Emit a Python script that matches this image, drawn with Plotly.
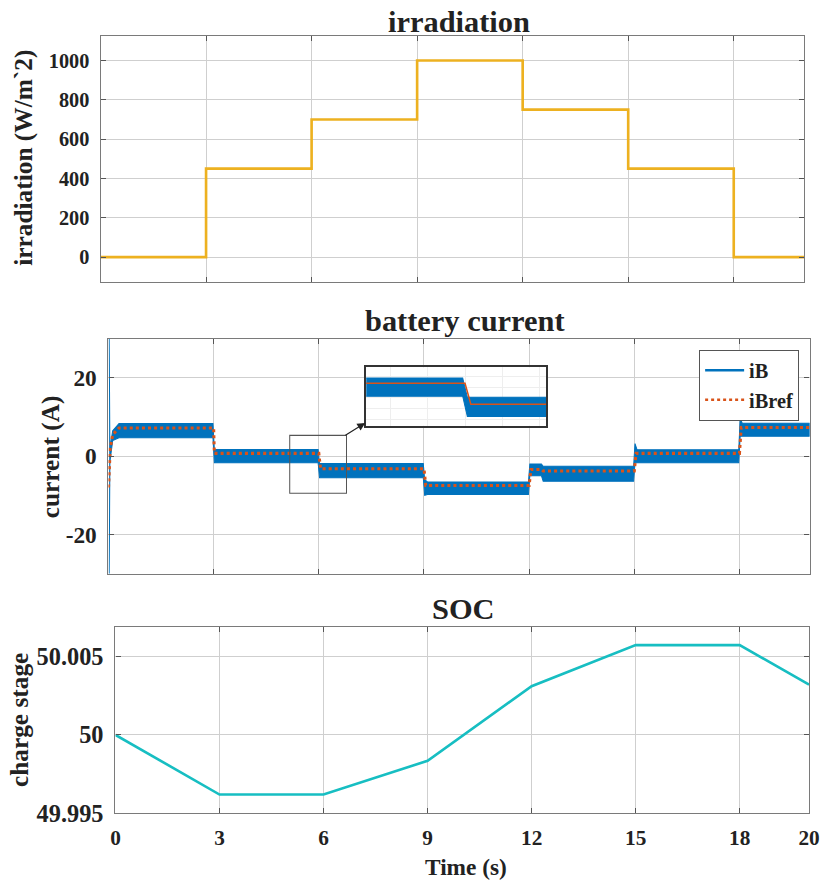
import plotly.graph_objects as go

# reference frame is 823 x 883; the photographed page comes out ~0.986x the layout size,
# so the layout is built slightly larger and every pixel size is scaled by S.
W0, H0 = 823, 883
S = 1 / 0.986
FONT = "Liberation Serif"

# ---------------- data ----------------
time_ticks = [0, 3, 6, 9, 12, 15, 18, 20]

# irradiation (step profile, W/m^2)
irr_t = [0, 3, 6, 9, 12, 15, 18, 20]
irr_v = [0, 450, 700, 1000, 750, 450, 0, 0]

# battery current iB: envelope of the switching ripple band (A)
ib_t = [0.02, 0.04, 0.12, 0.3, 2.98, 3.02, 5.98, 6.02, 8.98, 9.02, 9.1, 11.98,
        12.02, 12.35, 12.4, 14.98, 15.02, 15.08, 17.98, 18.02, 18.08, 20.0]
ib_upper = [30, 2.0, 6.5, 8.3, 8.3, 1.7, 1.7, -1.9, -1.9, -6.0, -6.6, -6.6,
            -2.0, -2.0, -2.6, -2.6, 3.2, 1.6, 1.6, 9.6, 8.4, 8.4]
ib_lower = [-30, -1.5, 4.0, 4.7, 4.7, -1.7, -1.7, -5.5, -5.5, -10.0, -9.8, -9.8,
            -5.0, -5.0, -6.4, -6.4, -1.7, -1.7, -1.7, 5.1, 5.1, 5.1]

# battery current reference iBref (A)
ref_t = [0, 0.05, 0.12, 0.3, 3.0, 3.02, 6.0, 6.05, 9.0, 9.05, 12.0, 12.05,
         12.35, 12.4, 15.0, 15.05, 18.0, 18.05, 20]
ref_v = [-8, 2, 5.5, 7.2, 7.2, 0.7, 0.7, -3.2, -3.2, -7.5, -7.5, -3.4,
         -3.4, -3.8, -3.8, 0.7, 0.7, 7.3, 7.3]

# state of charge (%)
soc_t = [0, 3, 6, 9, 12, 15, 18, 20]
soc_v = [50.0, 49.9962, 49.9962, 49.99835, 50.0031, 50.00572, 50.00572, 50.0032]

# zoom window shown in the inset
zoom_x = [5.17, 6.79]
zoom_y = [-9.5, 5.3]
inset_x = [5.15, 6.7]
inset_y = [-7.25, 3.7]

# ---------------- helpers ----------------
def fx(p):
    return p / W0

def fy(p):
    return 1 - p / H0

def sz(v):
    return v * S

def isz(v):
    return int(round(v * S))

BLUE = "#0072BD"
ORANGE = "#D95319"
GOLD = "#EDB120"
TEAL = "#17BEC2"
GRID = "#CFCFCF"
FRAME = "#7A7A7A"

band_x = ib_t + ib_t[::-1]
band_y = ib_upper + ib_lower[::-1]

fig = go.Figure()

fig.add_trace(go.Scatter(x=irr_t, y=irr_v, mode="lines", line=dict(color=GOLD, width=sz(2.6), shape="hv"),
                         xaxis="x", yaxis="y", showlegend=False))
fig.add_trace(go.Scatter(x=band_x, y=band_y, mode="lines", fill="toself", fillcolor=BLUE,
                         line=dict(color=BLUE, width=sz(1)), xaxis="x2", yaxis="y2", showlegend=False,
                         hoverinfo="skip"))
fig.add_trace(go.Scatter(x=ref_t, y=ref_v, mode="lines", line=dict(color=ORANGE, width=sz(3), dash="dot"),
                         xaxis="x2", yaxis="y2", showlegend=False))
fig.add_trace(go.Scatter(x=[None], y=[None], mode="lines", name="iB", line=dict(color=BLUE, width=sz(2.5)),
                         xaxis="x2", yaxis="y2"))
fig.add_trace(go.Scatter(x=[None], y=[None], mode="lines", name="iBref",
                         line=dict(color=ORANGE, width=sz(2.5), dash="dot"), xaxis="x2", yaxis="y2"))
fig.add_trace(go.Scatter(x=band_x, y=band_y, mode="lines", fill="toself", fillcolor=BLUE,
                         line=dict(color=BLUE, width=sz(1)), xaxis="x4", yaxis="y4", showlegend=False,
                         hoverinfo="skip"))
fig.add_trace(go.Scatter(x=ref_t, y=ref_v, mode="lines", line=dict(color=ORANGE, width=sz(1.5)),
                         xaxis="x4", yaxis="y4", showlegend=False))
fig.add_trace(go.Scatter(x=soc_t, y=soc_v, mode="lines", line=dict(color=TEAL, width=sz(2.6)),
                         xaxis="x3", yaxis="y3", showlegend=False))

common_axis = dict(showline=True, linecolor=FRAME, linewidth=sz(1.2), mirror="ticks",
                   showgrid=True, gridcolor=GRID, gridwidth=sz(1), zeroline=False,
                   ticks="inside", ticklen=isz(5), tickcolor="#555555")

def tf(size):
    return dict(family=FONT, size=sz(size), color="#222222", weight="bold")

fig.update_layout(
    width=round(W0 * S), height=round(H0 * S), margin=dict(l=0, r=0, t=0, b=0), autosize=False,
    paper_bgcolor="white", plot_bgcolor="white",
    xaxis=dict(domain=[fx(96), fx(803)], range=[0, 20], tickvals=time_ticks, showticklabels=False,
               anchor="y", **common_axis),
    yaxis=dict(domain=[fy(282), fy(36)], range=[-125, 1125], tickvals=[0, 200, 400, 600, 800, 1000],
               tickfont=tf(20), anchor="x", ticklabelstandoff=isz(6), **common_axis),
    xaxis2=dict(domain=[fx(104), fx(808.5)], range=[0, 20], tickvals=time_ticks, showticklabels=False,
                anchor="y2", **common_axis),
    yaxis2=dict(domain=[fy(574.3), fy(339)], range=[-30, 30], tickvals=[-20, 0, 20],
                ticktext=["-20", "0", "20"],
                tickfont=tf(23), anchor="x2", ticklabelstandoff=isz(6), **common_axis),
    xaxis3=dict(domain=[fx(111), fx(808)], range=[0, 20], tickvals=time_ticks,
                tickfont=tf(21), anchor="y3", ticklabelstandoff=isz(5), **common_axis),
    yaxis3=dict(domain=[fy(814.3), fy(627.3)], range=[49.995, 50.0069],
                tickvals=[49.995, 50.0, 50.005], ticktext=["49.995", "50", "50.005"],
                tickfont=tf(24), anchor="x3", ticklabelstandoff=isz(6), **common_axis),
    xaxis4=dict(domain=[fx(363), fx(544)], range=inset_x, showticklabels=False, anchor="y4",
                showline=True, linecolor="#333333", linewidth=sz(1.5), mirror=True,
                showgrid=True, gridcolor="#EEEEEE", tick0=6, dtick=0.32, zeroline=False, ticks=""),
    yaxis4=dict(domain=[fy(426.3), fy(367.7)], range=inset_y, showticklabels=False, anchor="x4",
                showline=True, linecolor="#333333", linewidth=sz(1.5), mirror=True,
                showgrid=True, gridcolor="#EEEEEE", dtick=2, zeroline=False, ticks=""),
    legend=dict(x=fx(798), y=fy(350), xanchor="right", yanchor="top", bgcolor="white",
                bordercolor="#555555", borderwidth=1, font=tf(20), tracegroupgap=0,
                itemwidth=max(30, isz(38))),
    showlegend=True,
)

fig.add_shape(type="rect", xref="x2", yref="y2", x0=zoom_x[0], x1=zoom_x[1], y0=zoom_y[0], y1=zoom_y[1],
              line=dict(color="#555555", width=sz(1)), fillcolor="rgba(0,0,0,0)")

ann = []
def txt(text, x, y, size, angle=0):
    ann.append(dict(text=text, x=fx(x), y=fy(y), xref="paper", yref="paper", showarrow=False,
                    xanchor="center", yanchor="middle", textangle=angle, font=tf(size)))

txt("irradiation", 456, 22, 30)
txt("battery current", 462, 321, 30)
txt("SOC", 461, 610, 30)
txt("irradiation (W/m`2)", 19, 158, 25, -90)
txt("current (A)", 46, 457, 25, -90)
txt("charge stage", 14, 721, 25, -90)
txt("Time (s)", 463, 868, 23)

ann.append(dict(x=fx(362), y=fy(423.5), xref="paper", yref="paper", ax=sz(-21), ay=sz(13),
                axref="pixel", ayref="pixel", showarrow=True, arrowhead=2, arrowsize=1.3,
                arrowwidth=sz(1.2), arrowcolor="#222222", text=""))
fig.update_layout(annotations=ann)

fig.write_html("out.html", config={"responsive": False})
